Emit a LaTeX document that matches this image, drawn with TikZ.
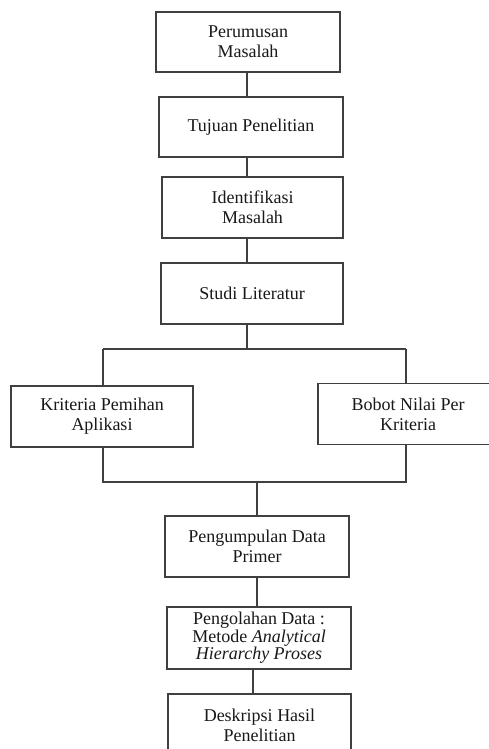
\documentclass[tikz,border=0pt]{standalone}
\usepackage{fontspec}
\setmainfont{Liberation Serif}
\begin{document}
\begin{tikzpicture}[x=1pt,y=-1pt,
  box/.style={draw=black!75, line width=1.3pt, rectangle, inner sep=0pt, align=center,
    text=black!90, font=\fontsize{18pt}{20pt}\selectfont},
  conn/.style={draw=black!75, line width=1.3pt}]
\useasboundingbox[fill=white] (0,0) rectangle (489,749);
\node[box, minimum width=184pt, minimum height=60pt] (b1) at (248,42) {Perumusan\\Masalah};
\node[box, minimum width=184pt, minimum height=60pt] (b2) at (251,127) {Tujuan Penelitian};
\node[box, minimum width=181pt, minimum height=61pt] (b3) at (252.5,207.5) {Identifikasi\\Masalah};
\node[box, minimum width=182pt, minimum height=61pt] (b4) at (252,293.5) {Studi Literatur};
\node[box, minimum width=182pt, minimum height=61pt] (kl) at (102,416.5) {Kriteria Pemihan\\Aplikasi};
\node[box, minimum width=180pt, minimum height=61pt] (kr) at (408,414) {Bobot Nilai Per\\Kriteria};
\node[box, minimum width=184pt, minimum height=61pt] (b5) at (257,546.5) {Pengumpulan Data\\Primer};
\node[box, minimum width=184pt, minimum height=62pt, font=\fontsize{18pt}{17.5pt}\selectfont] (b6) at (259,638) {Pengolahan Data :\\Metode \textit{Analytical}\\\textit{Hierarchy Proses}};
\node[box, minimum width=183pt, minimum height=62pt] (b7) at (259.5,725) {Deskripsi Hasil\\Penelitian};
\coordinate (j1) at (247,349);
\coordinate (jl) at (103,349);
\coordinate (jr) at (406,349);
\coordinate (j2) at (257,482);
\coordinate (bl) at (103,482);
\coordinate (br) at (406,482);
\draw[conn] (b1.south -| 247,0) -- (247,0 |- b2.north);
\draw[conn] (b2.south -| 247,0) -- (247,0 |- b3.north);
\draw[conn] (b3.south -| 247,0) -- (247,0 |- b4.north);
\draw[conn] (b4.south -| j1) -- (j1);
\draw[conn] (jl) -- (jr);
\draw[conn] (jl) -- (jl |- kl.north);
\draw[conn] (jr) -- (jr |- kr.north);
\draw[conn] (bl |- kl.south) -- (bl) -- (br) -- (br |- kr.south);
\draw[conn] (j2) -- (j2 |- b5.north);
\draw[conn] (b5.south -| 257,0) -- (257,0 |- b6.north);
\draw[conn] (b6.south -| 253,0) -- (253,0 |- b7.north);
\end{tikzpicture}
\end{document}
